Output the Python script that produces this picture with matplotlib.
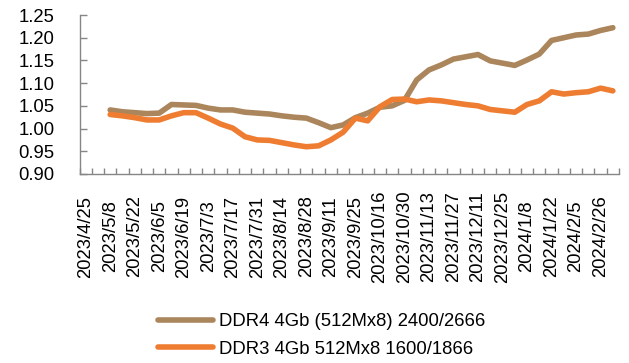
import numpy as np
import matplotlib
matplotlib.use("Agg")
import matplotlib.pyplot as plt

plt.rcParams['font.family'] = ['Liberation Sans', 'DejaVu Sans']

# Weekly observation dates (category axis)
dates = [
    "2023/4/25", "2023/5/1", "2023/5/8", "2023/5/15", "2023/5/22", "2023/5/29",
    "2023/6/5", "2023/6/12", "2023/6/19", "2023/6/26", "2023/7/3", "2023/7/10",
    "2023/7/17", "2023/7/24", "2023/7/31", "2023/8/7", "2023/8/14", "2023/8/21",
    "2023/8/28", "2023/9/4", "2023/9/11", "2023/9/18", "2023/9/25", "2023/10/9",
    "2023/10/16", "2023/10/23", "2023/10/30", "2023/11/6", "2023/11/13", "2023/11/20",
    "2023/11/27", "2023/12/4", "2023/12/11", "2023/12/18", "2023/12/25", "2024/1/2",
    "2024/1/8", "2024/1/15", "2024/1/22", "2024/1/29", "2024/2/5", "2024/2/19",
    "2024/2/26", "2024/3/4",
]

nan = np.nan
ddr4 = [
    nan, nan, 1.041, 1.037, 1.035, 1.033, 1.034, 1.053, 1.052, 1.051, 1.045, 1.041,
    1.041, 1.036, 1.034, 1.032, 1.028, 1.025, 1.023, 1.013, 1.002, 1.008, 1.024, 1.034,
    1.047, 1.050, 1.062, 1.107, 1.129, 1.140, 1.153, 1.158, 1.163, 1.149, 1.144, 1.139,
    1.151, 1.164, 1.194, 1.200, 1.206, 1.208, 1.216, 1.222,
]
ddr3 = [
    nan, nan, 1.031, 1.028, 1.024, 1.019, 1.019, 1.028, 1.035, 1.035, 1.023, 1.010,
    1.001, 0.982, 0.975, 0.974, 0.969, 0.964, 0.960, 0.962, 0.975, 0.992, 1.023, 1.017,
    1.048, 1.064, 1.065, 1.059, 1.063, 1.061, 1.057, 1.053, 1.050, 1.042, 1.039, 1.036,
    1.053, 1.061, 1.081, 1.076, 1.079, 1.081, 1.089, 1.083,
]

series_names = ["DDR4 4Gb (512Mx8) 2400/2666", "DDR3 4Gb 512Mx8 1600/1866"]
colors = ["#AB855B", "#EE7D31"]

fig = plt.figure(figsize=(6.29, 3.63), dpi=100)
ax = fig.add_axes([79.5 / 629, 1 - 174 / 363, (619 - 79.5) / 629, (174 - 15) / 363])

x = np.arange(len(dates))
for vals, name, col in zip([ddr4, ddr3], series_names, colors):
    ax.plot(x, vals, color=col, lw=4.0, label=name,
            solid_capstyle="round", solid_joinstyle="round")

ax.set_xlim(-0.5, len(dates) - 0.5)
ax.set_ylim(0.90, 1.25)
ax.set_yticks(np.arange(0.90, 1.2501, 0.05))
ax.set_yticklabels([f"{v:.2f}" for v in np.arange(0.90, 1.2501, 0.05)])

ax.set_xticks(x[::2])
ax.set_xticklabels(dates[::2], rotation=90, va="center", ha="center")
ax.set_xticks(np.arange(-0.5, len(dates), 1.0), minor=True)

spine_col = "#868686"
for s in ["top", "right"]:
    ax.spines[s].set_visible(False)
for s in ["left", "bottom"]:
    ax.spines[s].set_color(spine_col)
    ax.spines[s].set_linewidth(1.0)

ax.tick_params(axis="x", which="major", length=0, pad=45, labelsize=13.3)
ax.tick_params(axis="x", which="minor", direction="in", length=4.5, width=1.0,
               color=spine_col)
ax.tick_params(axis="y", which="major", direction="in", length=5, width=1.0,
               color=spine_col, pad=18, labelsize=13.3)

leg = fig.legend(loc="upper left", bbox_to_anchor=(158 / 629, 1 - 313 / 363),
                 frameon=False, fontsize=13.3, handlelength=3.0,
                 handletextpad=0.3, labelspacing=0.58, borderpad=0,
                 borderaxespad=0)
for ln in leg.get_lines():
    ln.set_linewidth(4.0)
    ln.set_solid_capstyle("round")

fig.savefig("out.png", dpi=100)
